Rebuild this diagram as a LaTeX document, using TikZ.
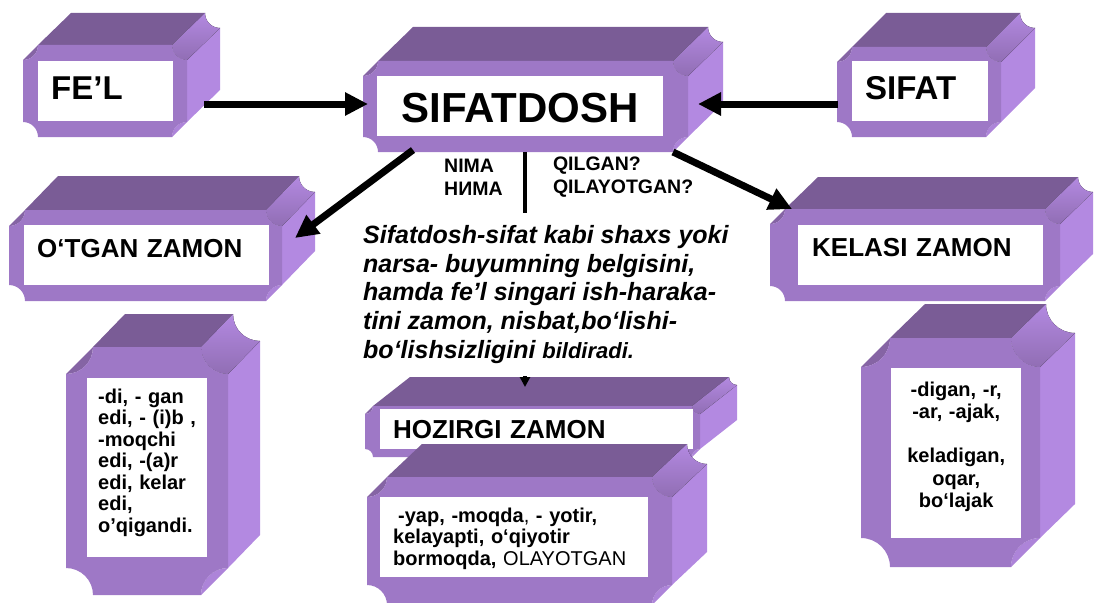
\documentclass[tikz,border=0pt]{standalone}
\usepackage{fontspec}
\setmainfont{Liberation Sans}
\usepackage{tikz}
\usetikzlibrary{positioning,arrows.meta}

\definecolor{boxtop}{HTML}{7A5C96}
\definecolor{boxfront}{HTML}{9E78C6}
\definecolor{boxside}{HTML}{B389E1}

% front from (#1,#2) to (#3,#4), depth #5 right and #6 up, corner radius #7
\newcommand{\cubebox}[7]{%
  \fill[boxtop] ({#1+#7},#2) -- ({#1+#7+#5},{#2-#6}) -- ({#3-#7+#5},{#2-#6}) -- ({#3-#7},#2) -- cycle;
  \fill[boxside] (#3,{#2+#7}) -- ({#3+#5},{#2+#7-#6}) -- ({#3+#5},{#4-#7-#6}) -- (#3,{#4-#7}) -- cycle;
  \fill[top color=boxside, bottom color=boxtop!60!boxside] ({#3-#7},#2) arc[start angle=180, end angle=90, radius=#7]
    -- ({#3+#5},{#2+#7-#6}) arc[start angle=90, end angle=180, radius=#7] -- cycle;
  \fill[boxtop!70!boxfront] (#1,{#2+#7}) arc[start angle=90, end angle=0, radius=#7] -- cycle;
  \fill[boxside!70!boxfront] (#3,{#4-#7}) arc[start angle=270, end angle=180, radius=#7] -- cycle;
  \fill[boxfront] ({#1+#7},#2) -- ({#3-#7},#2) arc[start angle=180, end angle=90, radius=#7]
    -- (#3,{#4-#7}) arc[start angle=270, end angle=180, radius=#7]
    -- ({#1+#7},#4) arc[start angle=0, end angle=-90, radius=#7]
    -- (#1,{#2+#7}) arc[start angle=90, end angle=0, radius=#7] -- cycle;
}

\begin{document}
\begin{tikzpicture}[x=1pt, y=-1pt,
    plate/.style = {fill=white, inner xsep=13pt, inner ysep=0pt, anchor=north west, align=left},
    bigword/.style = {font=\fontsize{33}{40}\selectfont\bfseries},
    midword/.style = {font=\fontsize{26}{31}\selectfont\bfseries},
    smallword/.style = {font=\fontsize{20}{21.5}\selectfont\bfseries},
    qword/.style = {font=\fontsize{19.5}{23}\selectfont\bfseries, align=left, inner sep=0pt},
    bigarrow/.style = {line width=7pt, -{Triangle[length=23pt, width=22pt]}},
    thinarrow/.style = {line width=4pt, -{Triangle[length=10pt, width=10pt]}}]
  \useasboundingbox (0,0) rectangle (1094,602);

  % upper row
  \cubebox{23}{45}{187}{137}{33}{32}{15}
  \node[plate, bigword, text width=109pt, minimum height=60pt, text height=24pt, text depth=8pt] (fel) at (38,61) {FE’L};
  \cubebox{363}{61}{688}{152}{35}{34}{15}
  \node[plate, text width=260pt, minimum height=60pt, text height=32pt, text depth=0pt, align=center,
    font=\fontsize{42}{50}\selectfont\bfseries] (sdosh) at (377,76) {SIFATDOSH};
  \cubebox{837}{47}{1001}{137}{34}{34}{15}
  \node[plate, bigword, text width=110pt, minimum height=60pt, text height=24pt, text depth=8pt] (sifat) at (852,61) {SIFAT};

  % middle row
  \cubebox{9}{210}{282}{301}{33}{34}{16}
  \node[plate, midword, text width=219pt, minimum height=60pt, text height=19pt, text depth=15pt] (otgan) at (24,225) {O‘TGAN ZAMON};
  \cubebox{770}{209}{1060}{301}{33}{32}{15}
  \node[plate, midword, inner xsep=14pt, text width=217pt, minimum height=60pt, text height=19pt, text depth=17pt] (kelasi) at (798,225) {KELASI ZAMON};

  % lower row
  \cubebox{66}{347}{228}{595}{32}{33}{27}
  \node[plate, smallword, inner xsep=11pt, text width=98pt, minimum height=179pt, text height=15pt, text depth=144pt] (past) at (87,378)
    {-di, - gan\\edi, - (i)b ,\\-moqchi\\edi, -(a)r\\edi, kelar\\edi,\\o’qigandi.};
  \cubebox{861}{338}{1040}{567}{35}{34}{29}
  \node[plate, smallword, inner xsep=5pt, text width=120pt, minimum height=170pt, text height=15pt, text depth=129pt, align=center,
    font=\fontsize{20}{22.2}\selectfont\bfseries] (future) at (891,368)
    {-digan, -r,\\-ar, -ajak,\hspace*{18pt}\\[22.2pt]keladigan,\\oqar,\\bo‘lajak};

  % centre column
  \cubebox{365}{406}{700}{457}{37}{29}{8}
  \node[plate, midword, text width=287pt, minimum height=40pt, text height=19pt, text depth=1pt] (hozirgi) at (380,409) {HOZIRGI ZAMON};
  \cubebox{367}{477}{672}{605}{35}{33}{20}
  \node[plate, smallword, text width=242pt, minimum height=80pt, text height=15pt, text depth=45pt] (present) at (380,497)
    {\hspace*{5pt}-yap, -moqda{\mdseries,} - yotir,\\kelayapti, o‘qiyotir\\bormoqda, {\mdseries OLAYOTGAN}};

  \node[qword, anchor=north west] (nima) at (444,159) {NIMA\\НИМА};
  \node[qword, right=50pt of nima] (qilgan) {QILGAN?\\QILAYOTGAN?};

  % arrow ends on the boxes
  \coordinate (felout) at (204,104);
  \coordinate (sdoshleft) at (368,104);
  \coordinate (sifatout) at (838,104);
  \coordinate (sdoshright) at (698,104);
  \coordinate (sdoshsw) at (413,150);
  \coordinate (otganin) at (295,238);
  \coordinate (sdoshse) at (673,152);
  \coordinate (kelasiin) at (792,209);
  \coordinate (sdoshbot) at (525,152);
  \coordinate (hozirgiin) at (525,387);

  \draw[bigarrow] (felout) -- (sdoshleft);
  \draw[bigarrow] (sifatout) -- (sdoshright);
  \draw[bigarrow] (sdoshsw) -- (otganin);
  \draw[bigarrow] (sdoshse) -- (kelasiin);
  \draw[thinarrow] (sdoshbot) -- (hozirgiin);

  \node[fill=white, inner xsep=0pt, inner ysep=12pt, anchor=north west, align=left,
    font=\fontsize{25}{28.8}\selectfont\bfseries\itshape] (defn) at (363,213)
    {Sifatdosh-sifat kabi shaxs yoki\\narsa- buyumning belgisini,\\hamda fe’l singari ish-haraka-\\tini zamon, nisbat,bo‘lishi-\\bo‘lishsizligini {\fontsize{22}{28.8}\selectfont bildiradi.}};
\end{tikzpicture}
\end{document}
